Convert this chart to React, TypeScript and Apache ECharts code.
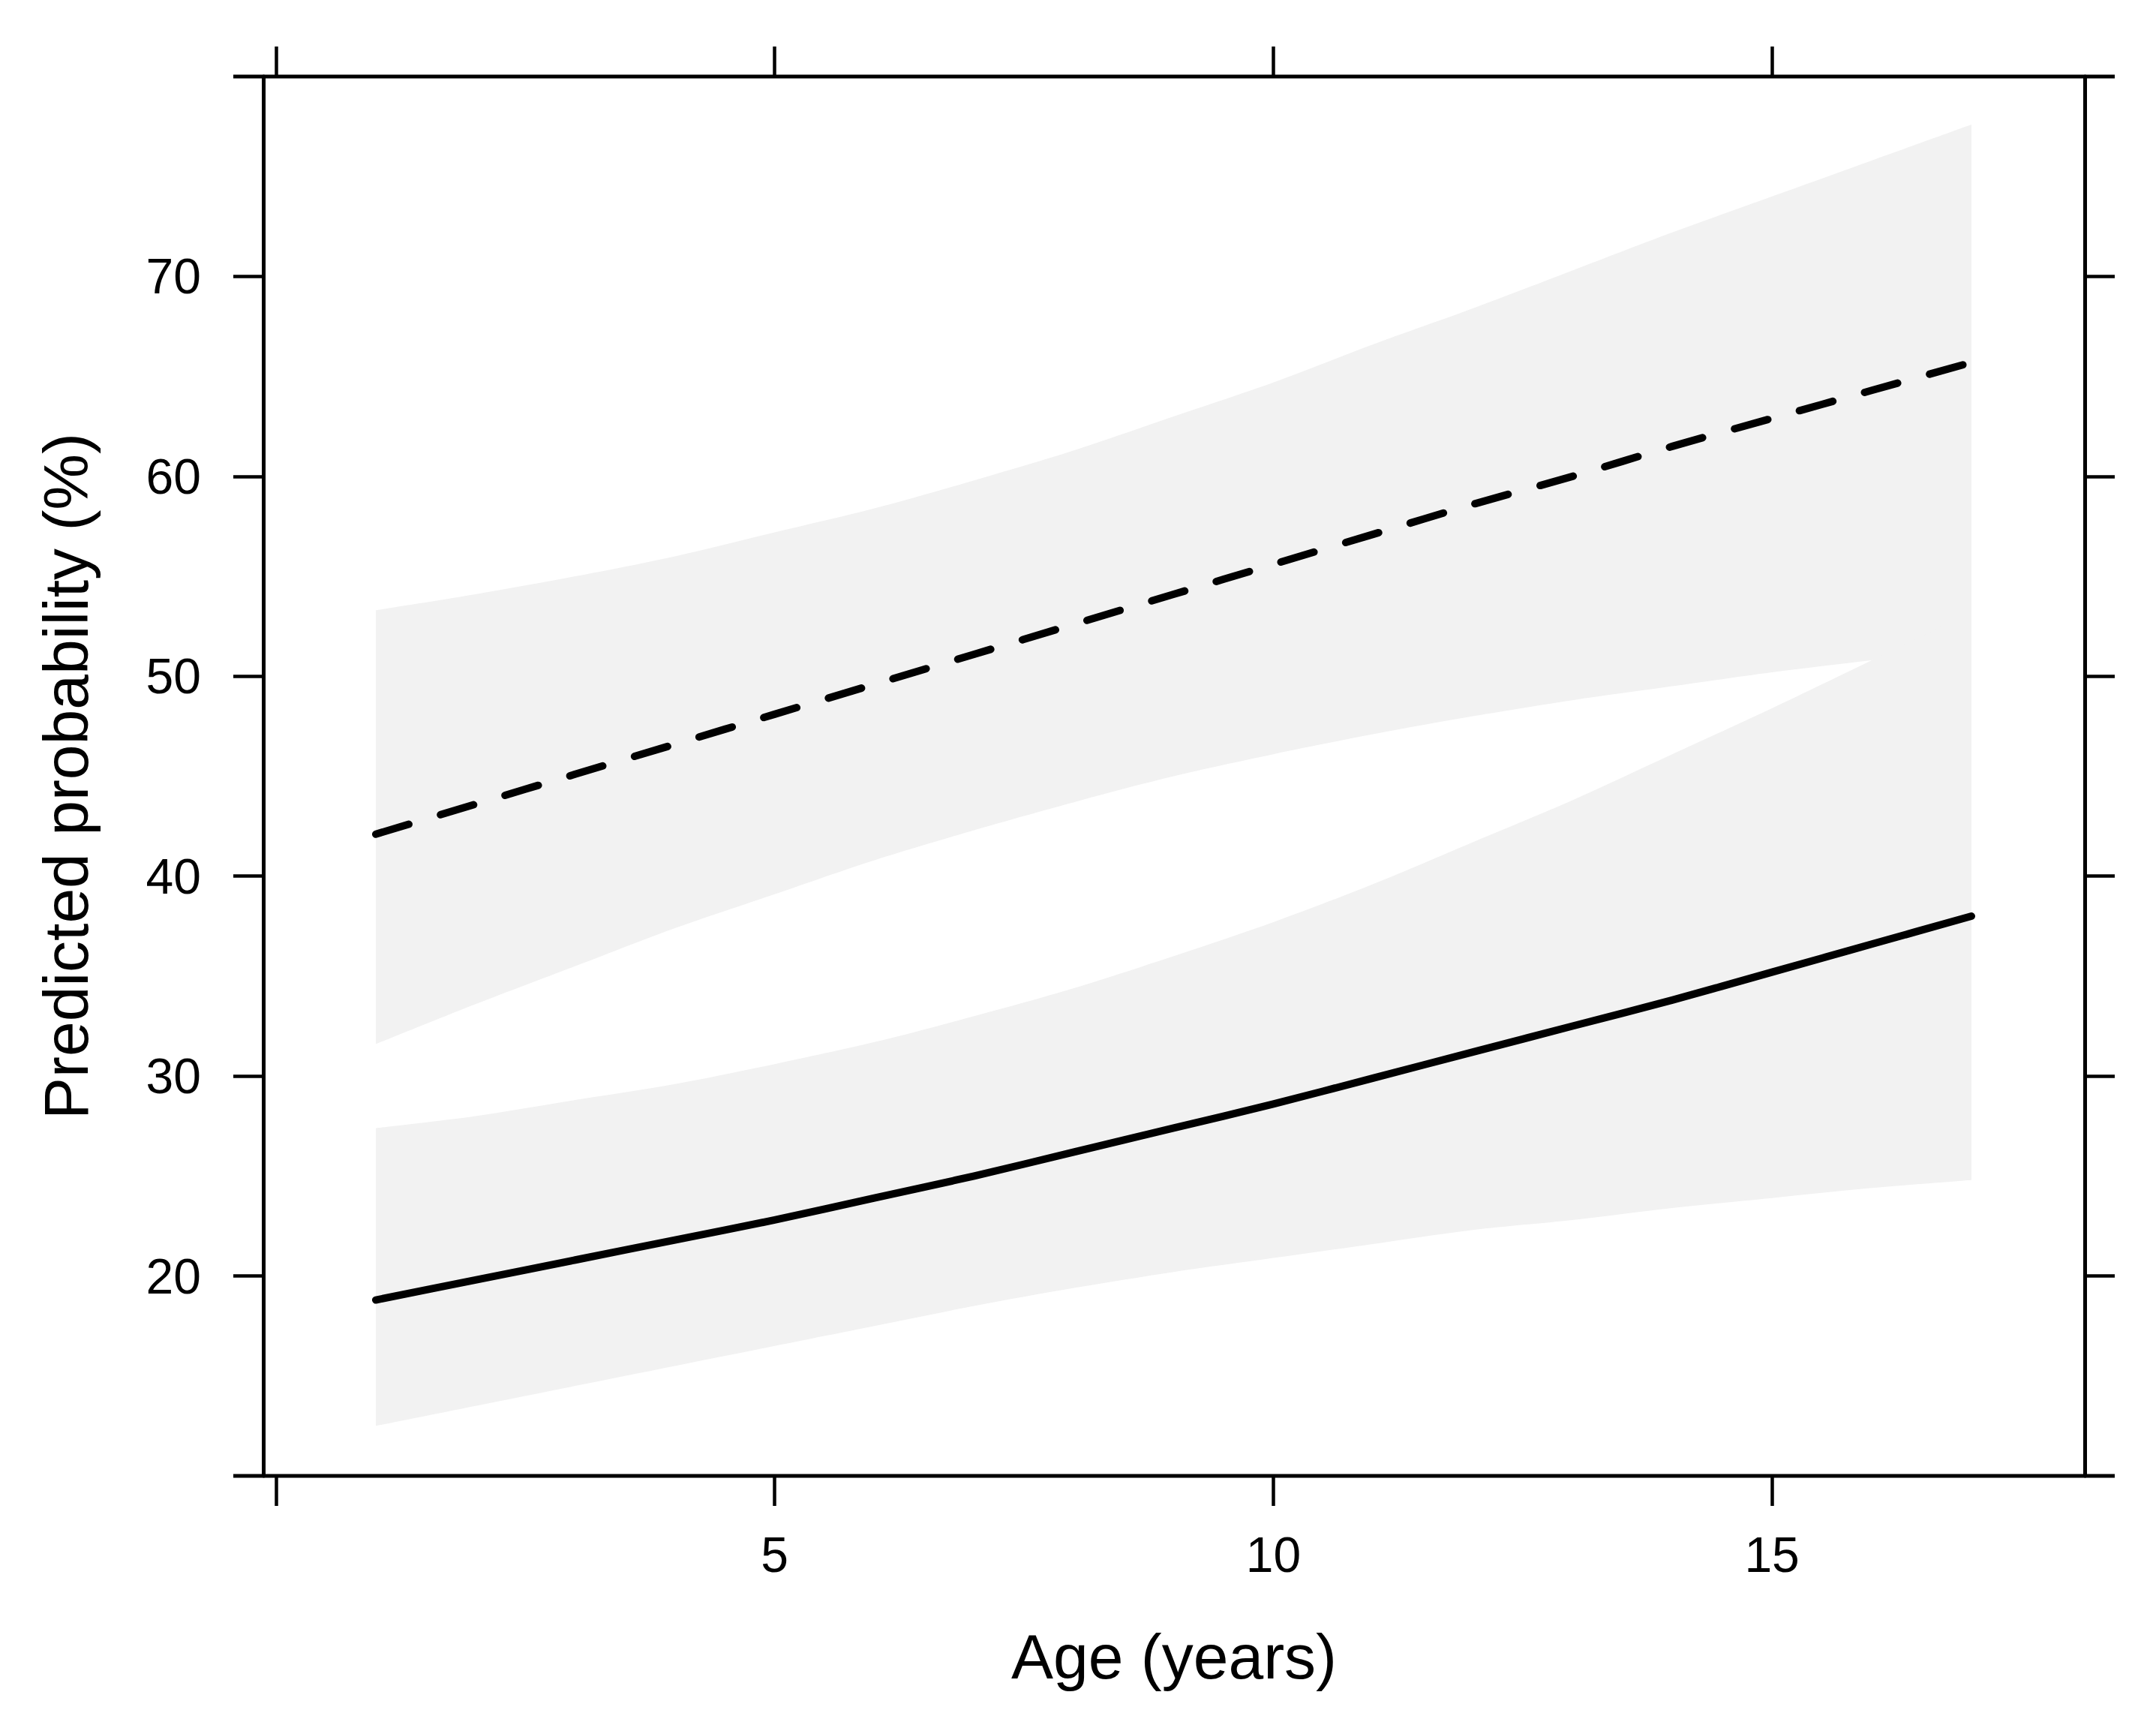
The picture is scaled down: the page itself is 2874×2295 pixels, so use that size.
import React, { useEffect, useRef } from "react";
import * as echarts from "echarts";

// ---- data ----
const ages = [1, 2, 3, 4, 5, 6, 7, 8, 9, 10, 11, 12, 13, 14, 15, 16, 17];

// lower group (solid line) and its confidence band
const fitSolid = [18.8, 19.8, 20.8, 21.8, 22.8, 23.9, 25.0, 26.2, 27.4, 28.6, 29.9, 31.2, 32.5, 33.8, 35.2, 36.6, 38.0];
const solidUpper = [27.4, 28.0, 28.8, 29.6, 30.6, 31.7, 33.0, 34.4, 36.0, 37.7, 39.6, 41.7, 43.8, 46.1, 48.4, 50.8, 53.2];
const solidLower = [12.5, 13.5, 14.5, 15.5, 16.5, 17.5, 18.5, 19.4, 20.2, 20.9, 21.6, 22.3, 22.8, 23.4, 23.9, 24.4, 24.8];

// upper group (dashed line) and its confidence band
const fitDashed = [42.1, 43.6, 45.1, 46.6, 48.1, 49.6, 51.1, 52.6, 54.1, 55.6, 57.1, 58.6, 60.0, 61.5, 62.9, 64.3, 65.7];
const dashedUpper = [53.3, 54.1, 55.0, 56.0, 57.2, 58.4, 59.8, 61.3, 63.0, 64.7, 66.6, 68.4, 70.3, 72.2, 74.0, 75.8, 77.6];
const dashedLower = [31.6, 33.6, 35.5, 37.4, 39.1, 40.8, 42.3, 43.7, 45.0, 46.1, 47.1, 48.0, 48.8, 49.5, 50.2, 50.8, 51.4];

// ticks and labels
const xTickValues = [0, 5, 10, 15];
const xLabelValues = [5, 10, 15];
const yTickValues = [20, 30, 40, 50, 60, 70];
const xTitle = "Age (years)";
const yTitle = "Predicted probability (%)";

// ---- layout / style ----
const W = 2874;
const H = 2295;
const GRID_LEFT = 351;
const GRID_RIGHT_X = 2779;
const GRID_TOP = 102;
const GRID_BOTTOM_Y = 1967;
const X_MIN = -0.128;
const X_MAX = 18.136;
const Y_MIN = 10;
const Y_MAX = 80;
const TICK_LEN = 40;
const FONT = "'Liberation Sans', Arial, Helvetica, sans-serif";
const BAND_COLOR = "#f2f2f2";
const BG = "#ffffff";
const BOX_W = 5;
const LINE_W = 10;
const SMOOTH = 0.3;

export default function App() {
  const ref = useRef<HTMLDivElement>(null);

  useEffect(() => {
    if (!ref.current) return;
    const chart = echarts.init(ref.current, null, { renderer: "svg" });

    // band edges drawn as smooth filled areas (fill down to the axis minimum);
    // painter's order: outer edge grey, inner edge background, so overlapping bands union correctly
    const edge = (values: number[], fill: string, z: number) => ({
      type: "line",
      silent: true,
      z,
      smooth: SMOOTH,
      showSymbol: false,
      symbol: "none",
      data: ages.map((a, i) => [a, values[i]]),
      lineStyle: { width: 0, opacity: 0 },
      areaStyle: { color: fill, opacity: 1, origin: "start" },
    });

    const tickStyle = { color: "#000", width: 4.5 };
    const labelStyle = { color: "#000", fontSize: 66, fontFamily: FONT };
    const nameStyle = { color: "#000", fontSize: 84, fontFamily: FONT };

    const xBase = {
      type: "value",
      min: X_MIN,
      max: X_MAX,
      z: 10,
      axisLine: { show: false, onZero: false },
      splitLine: { show: false },
      axisTick: {
        show: true,
        inside: false,
        length: TICK_LEN,
        lineStyle: tickStyle,
        customValues: xTickValues,
      },
    };
    const yBase = {
      type: "value",
      min: Y_MIN,
      max: Y_MAX,
      z: 10,
      axisLine: { show: true, onZero: false, lineStyle: { color: "#000", width: BOX_W } },
      splitLine: { show: false },
      axisTick: {
        show: true,
        inside: false,
        length: TICK_LEN,
        lineStyle: tickStyle,
        customValues: yTickValues,
      },
    };

    chart.setOption({
      animation: false,
      backgroundColor: BG,
      grid: {
        left: GRID_LEFT,
        top: GRID_TOP,
        right: W - GRID_RIGHT_X,
        bottom: H - GRID_BOTTOM_Y,
        containLabel: false,
      },
      xAxis: [
        {
          ...xBase,
          position: "bottom",
          axisLabel: { ...labelStyle, margin: 72, customValues: xLabelValues },
          name: xTitle,
          nameLocation: "middle",
          nameGap: 199,
          nameTextStyle: nameStyle,
        },
        {
          ...xBase,
          position: "top",
          axisLabel: { show: false },
        },
      ],
      yAxis: [
        {
          ...yBase,
          position: "left",
          axisLabel: { ...labelStyle, margin: 83, customValues: yTickValues },
          name: yTitle,
          nameLocation: "middle",
          nameGap: 221,
          nameRotate: 90,
          nameTextStyle: nameStyle,
        },
        {
          ...yBase,
          position: "right",
          axisLabel: { show: false },
        },
      ],
      graphic: [
        {
          type: "line",
          z: 100,
          silent: true,
          shape: { x1: GRID_LEFT - TICK_LEN, y1: GRID_TOP, x2: GRID_RIGHT_X + TICK_LEN, y2: GRID_TOP },
          style: { stroke: "#000", lineWidth: BOX_W },
        },
        {
          type: "line",
          z: 100,
          silent: true,
          shape: { x1: GRID_LEFT - TICK_LEN, y1: GRID_BOTTOM_Y, x2: GRID_RIGHT_X + TICK_LEN, y2: GRID_BOTTOM_Y },
          style: { stroke: "#000", lineWidth: BOX_W },
        },
      ],
      series: [
        edge(dashedUpper, BAND_COLOR, 1),
        edge(dashedLower, BG, 1),
        edge(solidUpper, BAND_COLOR, 1),
        edge(solidLower, BG, 1),
        {
          type: "line",
          name: "solid",
          z: 3,
          silent: true,
          smooth: SMOOTH,
          showSymbol: false,
          symbol: "none",
          data: ages.map((a, i) => [a, fitSolid[i]]),
          lineStyle: { color: "#000", width: LINE_W, cap: "round", join: "round" },
        },
        {
          type: "line",
          name: "dashed",
          z: 3,
          silent: true,
          smooth: SMOOTH,
          showSymbol: false,
          symbol: "none",
          data: ages.map((a, i) => [a, fitDashed[i]]),
          lineStyle: { color: "#000", width: LINE_W, type: [46, 44], cap: "round", join: "round" },
        },
      ],
    });

    return () => chart.dispose();
  }, []);

  return (
    <div
      ref={ref}
      style={{ position: "fixed", left: 0, top: 0, width: W, height: H, background: BG }}
    />
  );
}
